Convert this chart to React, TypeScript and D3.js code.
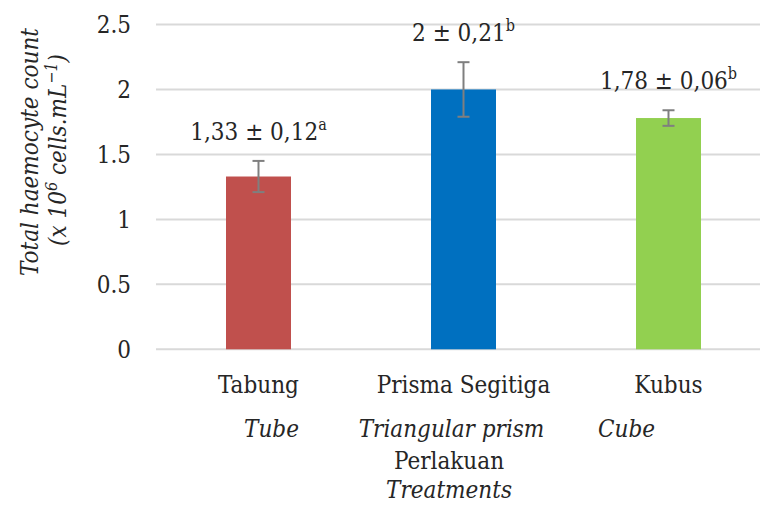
import React from "react";
import * as d3 from "d3";

const categories = ["Tabung", "Prisma Segitiga", "Kubus"];
const categoriesEn = ["Tube", "Triangular prism", "Cube"];
const means = [1.33, 2, 1.78];
const errors = [0.12, 0.21, 0.06];
const letters = ["a", "b", "b"];
const meanLabels = ["1,33", "2", "1,78"];
const errorLabels = ["0,12", "0,21", "0,06"];
const barColors = ["#C0504D", "#0070C0", "#92D050"];
const yTicks = [0, 0.5, 1, 1.5, 2, 2.5];
const yTickLabels = ["0", "0.5", "1", "1.5", "2", "2.5"];

const W = 760;
const H = 505;
const FONT = "'DejaVu Serif Condensed', 'DejaVu Serif', serif";
const FS = 24;

export default function App() {
  const gridLeft = 156;
  const x = d3
    .scaleBand<string>()
    .domain(categories)
    .range([156, 771])
    .paddingInner(0.683)
    .paddingOuter(0.3415);
  const y = d3.scaleLinear().domain([0, 2.5]).range([349.3, 24.5]);

  const bw = x.bandwidth();
  const center = (c: string) => (x(c) as number) + bw / 2;
  // English captions sit slightly off-centre under each category
  const enOffsets = [13, -12, -42];

  return (
    <svg
      width={W}
      height={H}
      style={{ position: "absolute", left: 0, top: 0, background: "#fff", fontFamily: FONT, fontStretch: "condensed" }}
    >
      {/* gridlines */}
      {yTicks.map((t, i) => (
        <line key={"g" + i} x1={gridLeft} x2={W} y1={y(t)} y2={y(t)} stroke="#d9d9d9" strokeWidth={2} />
      ))}
      {/* y tick labels */}
      {yTicks.map((t, i) => (
        <text key={"t" + i} x={131} y={y(t)} dy="0.35em" textAnchor="end" fontSize={FS} fill="#262626">
          {yTickLabels[i]}
        </text>
      ))}
      {/* bars */}
      {categories.map((c, i) => (
        <rect key={"b" + i} x={x(c)} y={y(means[i])} width={bw} height={y(0) - y(means[i])} fill={barColors[i]} />
      ))}
      {/* error bars */}
      {categories.map((c, i) => {
        const cx = center(c);
        const top = y(means[i] + errors[i]);
        const bot = y(means[i] - errors[i]);
        return (
          <g key={"e" + i} stroke="#7f7f7f" strokeWidth={2}>
            <line x1={cx} x2={cx} y1={top} y2={bot} />
            <line x1={cx - 6} x2={cx + 6} y1={top} y2={top} />
            <line x1={cx - 6} x2={cx + 6} y1={bot} y2={bot} />
          </g>
        );
      })}
      {/* value labels */}
      {categories.map((c, i) => (
        <text key={"v" + i} x={center(c)} y={y(means[i] + errors[i]) - 21} textAnchor="middle" fontSize={FS} fill="#262626">
          {`${meanLabels[i]} ± ${errorLabels[i]}`}
          <tspan fontSize={16} dy={-10}>{letters[i]}</tspan>
        </text>
      ))}
      {/* category labels */}
      {categories.map((c, i) => (
        <text key={"c" + i} x={center(c)} y={393} textAnchor="middle" fontSize={FS} fill="#262626">
          {c}
        </text>
      ))}
      {categoriesEn.map((c, i) => (
        <text key={"ce" + i} x={center(categories[i]) + enOffsets[i]} y={437} textAnchor="middle" fontSize={FS} fontStyle="italic" fill="#262626">
          {c}
        </text>
      ))}
      {/* x-axis title */}
      <text x={449} y={469} textAnchor="middle" fontSize={FS} fill="#262626">
        Perlakuan
      </text>
      <text x={449} y={498} textAnchor="middle" fontSize={FS} fontStyle="italic" fill="#262626">
        Treatments
      </text>
      {/* y-axis title */}
      <g transform="translate(30,152) rotate(-90)">
        <text textAnchor="middle" dy="0.35em" fontSize={FS} fontStyle="italic" fill="#262626">
          Total haemocyte count
        </text>
      </g>
      <g transform="translate(58,150) rotate(-90)">
        <text textAnchor="middle" dy="0.35em" fontSize={FS} fontStyle="italic" fill="#262626">
          (x 10
          <tspan fontSize={16} dy={-9}>6</tspan>
          <tspan dy={9}> cells.mL</tspan>
          <tspan fontSize={16} dy={-9}>−1</tspan>
          <tspan dy={9}>)</tspan>
        </text>
      </g>
    </svg>
  );
}
